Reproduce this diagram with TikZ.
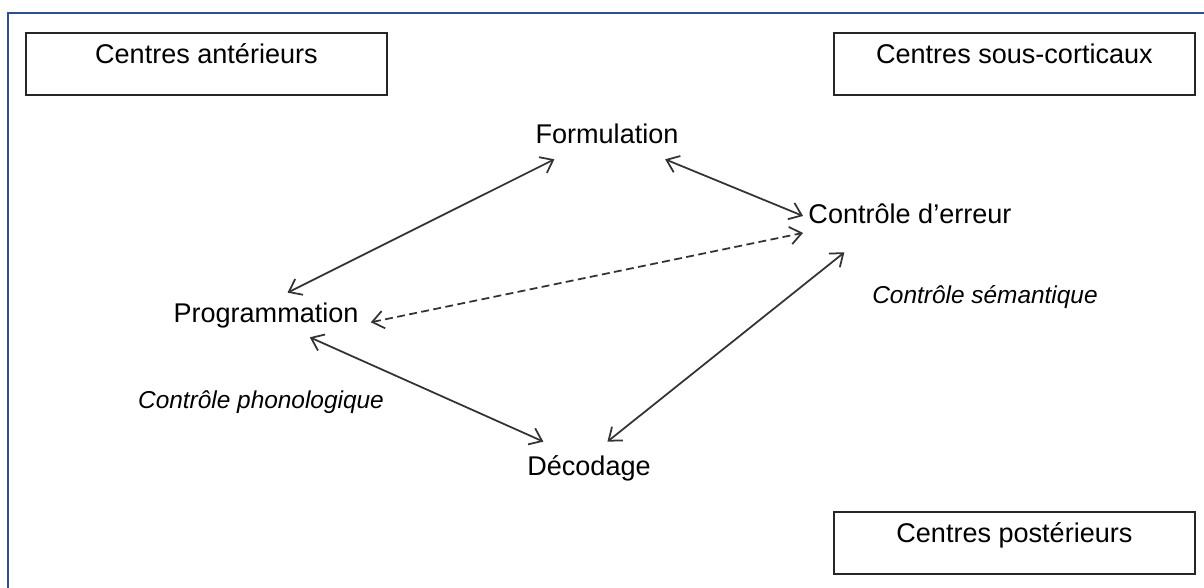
\documentclass[tikz,border=0pt]{standalone}
\usepackage{fontspec}
\setmainfont{Liberation Sans}
\usepackage{tikz}
\usetikzlibrary{arrows.meta}
\definecolor{cadre}{RGB}{47,79,143}

\begin{document}
\begin{tikzpicture}[
			x=0.02cm, y=-0.02cm,
			zone/.style={draw=black!85, line width=1.1pt, anchor=north west, minimum width=7.22cm,
				text height=0.62cm, text depth=0.62cm, inner ysep=0pt, font=\fontsize{15.4}{18}\selectfont},
			etape/.style={anchor=base, inner xsep=6.8pt, inner ysep=5.1pt, text height=11.4pt,
				text depth=3.4pt, font=\fontsize{15.4}{18}\selectfont},
			controle/.style={anchor=base, font=\itshape\fontsize{13.9}{17}\selectfont},
			fleche/.style={<->, line width=1pt, draw=black!80},
			>={Straight Barb[length=6.5pt, width=10pt]} % pointes ouvertes
			]

			% Le cadre
			\useasboundingbox (0,0) rectangle (1204,588);
			\draw[cadre, line width=1.2pt] (8,588) -- (8,13) -- (1204,13);

			% Les centres
			\node[zone] (ant) at (25,32) {Centres antérieurs};
			\node[zone] (sub) at (833,32) {Centres sous-corticaux};
			\node[zone] (post) at (833,511) {Centres postérieurs};

			% Les étapes
			\node[etape] (form) at (607,144) {Formulation};
			\node[etape, inner xsep=2.9pt, inner ysep=13.1pt] (ctrl) at (910,223) {Contrôle d’erreur};
			\node[etape] (prog) at (266,322) {Programmation};
			\node[etape, inner ysep=7.4pt] (dec) at (589,475) {Décodage};

			% Les contrôles
			\node[controle] (phono) at (261,408) {Contrôle phonologique};
			\node[controle] (sem) at (985,303) {Contrôle sémantique};

			% Les flèches
			\draw[fleche] (prog.46) to (form.203);
			\draw[fleche] (form.339) to (ctrl.180);
			\draw[fleche, dash pattern=on 4.5pt off 2.5pt] (prog.356) to (ctrl.189);
			\draw[fleche] (prog.333) to (dec.150);
			\draw[fleche] (dec.55) to (ctrl.209);
		\end{tikzpicture}
\end{document}
